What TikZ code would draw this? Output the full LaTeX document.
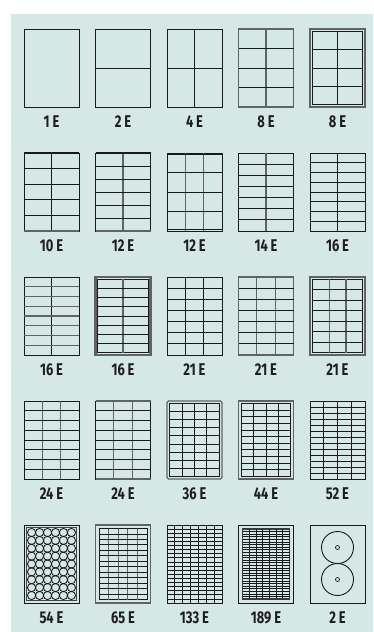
\documentclass[tikz,border=0pt]{standalone}
\usepackage{fontspec}
\newfontfamily\lblfont{Fira Sans}[FakeStretch=0.76]
\definecolor{bgc}{RGB}{214,232,229}
\definecolor{ink}{RGB}{25,25,25}
\definecolor{gline}{RGB}{95,100,98}
\definecolor{txt}{RGB}{30,30,30}
\tikzset{
  sheet/.style={draw=ink,line width=1pt,minimum width=55pt,minimum height=78pt,inner sep=0pt,outer sep=0pt},
  grayb/.style={draw=gline,line width=1.5pt},
  dbl/.style={draw=gline,line width=2.2pt},
  rnd/.style={draw=gline,line width=1.4pt,rounded corners=1.5pt},
  inframe/.style={draw=ink,line width=1pt},
  hl/.style={draw=ink,line width=1pt},
  vl/.style={draw=ink,line width=1pt},
  lbl/.style={font=\lblfont\bfseries\fontsize{17}{17}\selectfont,text=txt,inner sep=0pt},
  ring/.style={draw=ink,line width=0.9pt}
}
\newcommand\tile[8]{%
  \pgfmathsetmacro\tX{24+71.5*#2}%
  \pgfmathsetmacro\tY{29+124*#3}%
  \node[sheet,#7] (#1) at (\tX+27.5,\tY+39) {};
  \pgfmathsetmacro\ax{\tX+#6}\pgfmathsetmacro\bx{\tX+55-#6}%
  \pgfmathsetmacro\ay{\tY+#6}\pgfmathsetmacro\by{\tY+78-#6}%
  \ifdim #6pt>0pt \draw[inframe] (\ax,\ay) rectangle (\bx,\by);\fi
  \pgfmathtruncatemacro\nc{#4-1}%
  \pgfmathtruncatemacro\nr{#5-1}%
  \ifnum\nc>0 \foreach \k in {1,...,\nc}{\draw[vl] ({\ax+\k*(\bx-\ax)/#4},\ay) -- ({\ax+\k*(\bx-\ax)/#4},\by);}\fi
  \ifnum\nr>0 \foreach \k in {1,...,\nr}{\draw[hl] (\ax,{\ay+\k*(\by-\ay)/#5}) -- (\bx,{\ay+\k*(\by-\ay)/#5});}\fi
  \node[lbl] (#1l) at (\tX+27.5,\tY+93) {#8};
}
\begin{document}
\begin{tikzpicture}[x=1pt,y=-1pt]
\useasboundingbox (0,0) rectangle (373,632);
\fill[bgc] (11,14) rectangle (373,632);
% row 1
\tile{a1}{0}{0}{1}{1}{0}{}{1\,E}
\tile{a2}{1}{0}{1}{2}{0}{}{2\,E}
\tile{a3}{2}{0}{2}{2}{0}{}{4\,E}
\begin{scope}[vl/.style={draw=gline,line width=1.2pt}]
\tile{a4}{3}{0}{2}{4}{0}{grayb}{8\,E}
\end{scope}
\tile{a5}{4}{0}{2}{4}{2.3}{dbl}{8\,E}
% row 2
\tile{b1}{0}{1}{2}{5}{0}{}{10\,E}
\draw[ink,line width=1.6pt] (b1.north west) -- (b1.north east);
\draw[gline,line width=1.6pt] (b1.south west) -- (b1.south east);
\begin{scope}[vl/.style={draw=gline,line width=1.2pt}]
\tile{b2}{1}{1}{2}{6}{0}{}{12\,E}
\draw[ink,line width=1.6pt] (b2.north west) -- (b2.north east);
\draw[gline,line width=1.6pt] (b2.south west) -- (b2.south east);
\tile{b3}{2}{1}{3}{4}{0}{}{12\,E}
\draw[ink,line width=0.8pt] ([yshift=-1.8pt]b3.north west) -- ([yshift=-1.8pt]b3.north east);
\draw[ink,line width=0.8pt] ([yshift=1.8pt]b3.south west) -- ([yshift=1.8pt]b3.south east);
\tile{b4}{3}{1}{2}{7}{0}{}{14\,E}
\end{scope}
\tile{b5}{4}{1}{2}{8}{0}{}{16\,E}
% row 3
\begin{scope}[hl/.style={draw=gline,line width=1.2pt}]
\tile{c1}{0}{2}{2}{8}{0}{}{16\,E}
\end{scope}
\begin{scope}[vl/.style={draw=gline,line width=1.2pt}]
\tile{c2}{1}{2}{2}{8}{2.3}{dbl}{16\,E}
\end{scope}
\tile{c3}{2}{2}{3}{7}{0}{}{21\,E}
\begin{scope}[vl/.style={draw=gline,line width=1.2pt}]
\tile{c4}{3}{2}{3}{7}{0}{grayb}{21\,E}
\tile{c5}{4}{2}{3}{7}{2.3}{dbl}{21\,E}
\end{scope}
% row 4
\begin{scope}[vl/.style={draw=gline,line width=1.2pt}]
\tile{d1}{0}{3}{3}{8}{0}{}{24\,E}
\tile{d2}{1}{3}{3}{8}{0}{}{24\,E}
\draw[gline,line width=1.6pt] (d2.north west) -- (d2.north east);
\draw[gline,line width=1.6pt] (d2.south west) -- (d2.south east);
\end{scope}
\tile{d3}{2}{3}{4}{9}{2.6}{rnd}{36\,E}
\tile{d4}{3}{3}{4}{11}{2.6}{grayb}{44\,E}
\begin{scope}[hl/.style={draw=ink,line width=0.85pt}]
\tile{d5}{4}{3}{4}{13}{0}{}{52\,E}
\end{scope}
% row 5
\begin{scope}[inframe/.style={draw=gline!70!black,line width=1.6pt}]
\tile{e1}{0}{4}{1}{1}{2.6}{}{54\,E}
\end{scope}
\foreach \i in {0,...,5}{
  \foreach \j in {0,...,8}{
    \draw[ring,line width=0.85pt] ({24+3.6+(\i+0.5)*47.8/6},{525+3.6+(\j+0.5)*70.8/9}) circle (4.1);
  }
}
\begin{scope}[hl/.style={draw=ink,line width=0.8pt},vl/.style={draw=gline,line width=0.9pt}]
\tile{e2}{1}{4}{5}{13}{3.5}{grayb}{65\,E}
\end{scope}
\begin{scope}[hl/.style={draw=ink,line width=0.7pt},vl/.style={draw=ink,line width=0.8pt}]
\tile{e3}{2}{4}{7}{19}{0}{}{133\,E}
\end{scope}
\begin{scope}[hl/.style={draw=ink,line width=0.6pt},vl/.style={draw=ink,line width=0.7pt},inframe/.style={draw=gline!60!black,line width=1.4pt}]
\tile{e4}{3}{4}{7}{27}{4}{}{189\,E}
\end{scope}
\tile{e5}{4}{4}{1}{1}{0}{}{2\,E}
\node[ring,circle,minimum size=32pt,inner sep=0pt] (cd1) at (337.5,547.5) {};
\node[ring,circle,minimum size=32pt,inner sep=0pt] (cd2) at (337.5,579.5) {};
\node[ring,circle,minimum size=4pt,inner sep=0pt,line width=0.7pt] (h1) at (cd1) {};
\node[ring,circle,minimum size=4pt,inner sep=0pt,line width=0.7pt] (h2) at (cd2) {};
\end{tikzpicture}
\end{document}
